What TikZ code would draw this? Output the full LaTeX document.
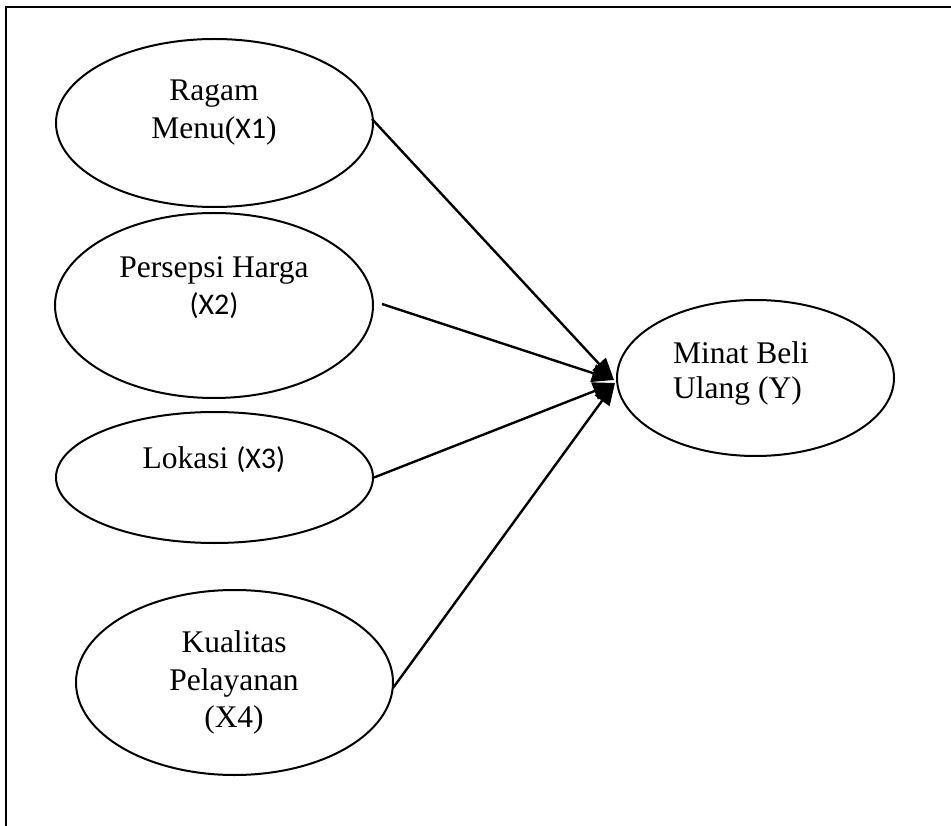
\documentclass[tikz,border=0pt]{standalone}
\usepackage{fontspec}
\setmainfont{Liberation Serif}
\newfontfamily\calfont{Carlito}
\usetikzlibrary{arrows.meta,shapes.geometric}
\newcommand{\calsz}{\calfont\fontsize{30}{36}\selectfont}
\begin{document}
\begin{tikzpicture}[x=1pt,y=-1pt,
  var/.style={draw,line width=2pt,ellipse,inner sep=0pt},
  lbl/.style={anchor=base,inner sep=0pt,font=\fontsize{31.5}{38}\selectfont},
  conn/.style={line width=2.4pt,-{Triangle[length=22pt,width=18pt]}}]
\useasboundingbox (0,0) rectangle (951,826);
% frame
\draw[line width=2.5pt] (5.5,7) -- (951,7);
\draw[line width=2pt] (5.5,6) -- (5.5,826);
% ellipses
\node[var,minimum width=317pt,minimum height=168pt] (r) at (214.5,123) {};
\node[var,minimum width=318pt,minimum height=185pt] (p) at (214,305.5) {};
\node[var,minimum width=317pt,minimum height=131pt] (l) at (214.5,477.5) {};
\node[var,minimum width=317pt,minimum height=185pt] (k) at (234.5,682.5) {};
\node[var,minimum width=277pt,minimum height=156pt] (m) at (755.5,378) {};
% texts
\node[lbl] (r1) at (214,101) {Ragam};
\node[lbl] (r2) at (214,139) {Menu({\calsz X1})};
\node[lbl] (p1) at (214,278) {Persepsi Harga};
\node[lbl] (p2) at (214,315) {\calsz (X2)};
\node[lbl] (l1) at (214,468) {Lokasi {\calsz (X3)}};
\node[lbl] (k1) at (234,652) {Kualitas};
\node[lbl] (k2) at (234,690) {Pelayanan};
\node[lbl] (k3) at (234,727) {(X4)};
\node[lbl,anchor=base west] (m1) at (673,363) {Minat Beli};
\node[lbl,anchor=base west] (m2) at (673,399) {Ulang (Y)};
% connectors
\coordinate (tipa) at (614,380);
\coordinate (tipb) at (615,383);
\coordinate (rs) at (372,119);
\coordinate (ps) at (382,304);
\coordinate (ks) at (393,688);
\draw[conn] (rs) -- (tipa);
\draw[conn] (ps) -- (tipa);
\draw[conn] (l.east) -- (tipb);
\draw[conn] (ks) -- (tipb);
\end{tikzpicture}
\end{document}
